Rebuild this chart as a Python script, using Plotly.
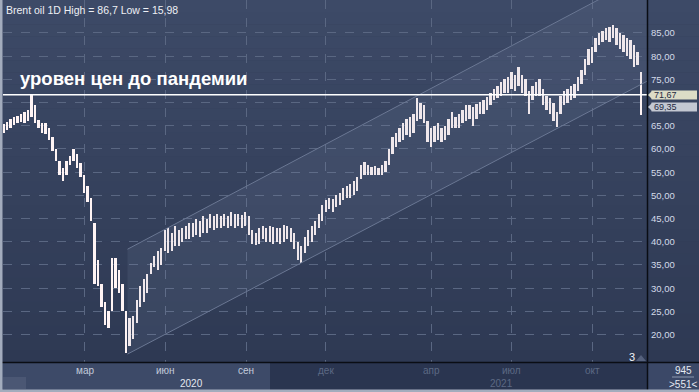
import pandas as pd
import plotly.graph_objects as go

# ---------------- data ----------------
start_date = "2019-11-29"
high = [
    65.3, 65.8, 66.5, 67, 67.2, 67.5, 68, 68.5, 71.7, 69.5,
    66.2, 65.5, 65.6, 64.5, 62.5, 60, 57.5, 56, 57.5, 58.5,
    60, 59, 57, 54.5, 52, 49.5, 44, 36, 31, 27,
    25, 36.5, 36.5, 34, 31, 25, 23.5, 24, 27.5, 30.5,
    32, 33, 35.5, 37, 38, 38.7, 42.5, 43, 42, 43.5,
    42.5, 43, 43.5, 44, 44, 45, 44.5, 45.5, 45, 46,
    45.5, 46, 45.5, 46, 45.5, 46.5, 46, 46, 45.8, 46.4,
    45.5, 42.5, 42, 43, 43.5, 43, 43.5, 43.2, 43, 43,
    43.6, 43.5, 43, 42, 40, 39, 41, 42.5, 43.5, 44.5,
    46, 48, 49, 49.5, 49.2, 50, 50.5, 51.5, 52, 52.5,
    53, 54, 56.5, 57.2, 56.5, 56.2, 56.3, 56, 56.5, 57.5,
    60, 62.5, 63.5, 64.5, 65.5, 66.5, 67, 67.5, 71, 70,
    69.5, 66, 64.5, 65, 65.5, 64.5, 65, 66.5, 68, 67,
    67.5, 68.5, 69.5, 69.5, 69, 69.8, 70.2, 70.5, 71.3, 72,
    73, 73.5, 74.5, 75, 75.5, 76.5, 76, 77.7, 76, 75,
    72.5, 73.5, 74.5, 75, 73, 71.5, 71, 70, 68, 71.5,
    72.5, 73, 73.5, 74, 75.5, 77, 79.5, 81.5, 82, 84,
    85, 85.5, 86, 86.2, 86.7, 86, 85, 84.5, 84, 83.5,
    82.5, 81, 76.5,
]
low = [
    63.5, 64, 64.5, 65.2, 65.5, 65.8, 65.6, 66, 67, 65.5,
    64.5, 63.5, 63.2, 62, 59.5, 57.5, 54.5, 53, 54.5, 56.5,
    57.5, 56, 54, 50.5, 48.5, 44.5, 31, 30.5, 26, 22,
    21.5, 25, 30, 29, 25, 16, 17.5, 19, 22.5, 26,
    27, 29, 33, 34.5, 34, 35, 38, 37.5, 38, 39,
    39, 40, 40.5, 40.5, 41, 41.5, 41, 42, 42, 43,
    42.5, 43, 43, 43.5, 43, 43.5, 43, 43.5, 43, 43.5,
    41.5, 39.5, 39.3, 39.5, 40.5, 40, 40, 39.5, 40, 39.5,
    40, 40.5, 40, 38.5, 36, 35.5, 37.5, 39, 40, 41.5,
    43, 44.5, 46.5, 47, 46.5, 47.5, 48, 49, 49.5, 49.5,
    50, 51, 53.5, 54.5, 54.5, 54.5, 54.5, 54.5, 54.5, 55,
    56.5, 59, 60.5, 61.5, 62, 63, 62.5, 63.5, 66, 66.5,
    65.5, 61.5, 60.5, 61.5, 62, 61.5, 62, 63, 64.5, 64.5,
    64.5, 65.5, 66, 66.5, 65, 66.5, 67.5, 67.5, 68.5, 69.5,
    70.5, 71, 71.5, 72, 72, 73, 72.5, 73.5, 72, 71.5,
    67.5, 70.5, 71.5, 71.5, 69.5, 68.5, 67.5, 66, 64.7, 67.5,
    69.5, 70, 70.5, 71, 72.5, 74, 76, 78, 78.5, 81,
    82.5, 83, 83.5, 83, 84, 82.5, 81.5, 81, 80, 79.5,
    77.7, 78, 67.3,
]
dates = pd.date_range(start_date, periods=len(high), freq="4D")

pre_pandemic_level = 71.67
last_price = 69.35
chart_title = "Brent oil 1D High = 86,7 Low = 15,98"
level_label = "уровен цен до пандемии"

channel_x = ["2020-04-18 14:00", "2021-12-02 17:00"]
channel_lower = [15.8, 74.6]
channel_upper = [38.4, 97.7]

month_ticks = ["2020-03-01", "2020-06-01", "2020-09-01", "2020-12-01",
               "2021-04-01", "2021-07-01", "2021-10-01"]
month_labels = ["мар", "июн", "сен", "дек", "апр", "июл", "окт"]
month_bright = [True, True, True, False, False, False, False]
year_labels = ["2020", "2021"]
year_pos = ["2020-07-01", "2021-06-20"]
year_bright = [True, False]
y_ticks = list(range(20, 90, 5))
y_hidden_tick = 70          # covered by the price tags in the original
x_range = ["2019-11-28 10:00", "2021-12-02 17:00"]
y_range = [14.09, 92.11]
bar_count_label = "945"
visible_label = ">551<"
corner_digit = "3"

# ---------------- figure ----------------
W, H = 699, 392
L, R, T, B = 3, 52, 0, 30
pw, ph = W - L - R, H - T - B


def px_x(x):
    return (x - L) / pw


def px_y(y):
    return (H - B - y) / ph


def mix(c1, c2, t):
    a = [int(c1[i:i + 2], 16) for i in (1, 3, 5)]
    b = [int(c2[i:i + 2], 16) for i in (1, 3, 5)]
    return "#" + "".join(f"{round(x + (y - x) * t):02x}" for x, y in zip(a, b))


def fmt(v):
    return f"{v:.2f}".replace(".", ",")


FONT = "Liberation Sans, Arial, sans-serif"
fig = go.Figure()

# channel
fig.add_trace(go.Scatter(
    x=[channel_x[0], channel_x[0], channel_x[1], channel_x[1]],
    y=[channel_lower[0], channel_upper[0], channel_upper[1], channel_lower[1]],
    fill="toself", fillcolor="rgba(135,150,180,0.13)",
    line=dict(width=0), mode="lines", hoverinfo="skip", showlegend=False))
for ys in (channel_lower, channel_upper):
    fig.add_trace(go.Scatter(x=channel_x, y=ys, mode="lines",
                             line=dict(color="#6a7793", width=1),
                             hoverinfo="skip", showlegend=False))

# price bars
fig.add_trace(go.Bar(
    x=dates, y=[h - l for h, l in zip(high, low)], base=low,
    width=2.6 * 86400000, marker=dict(color="#fff4f4", line=dict(width=0)),
    hoverinfo="skip", showlegend=False))

shapes = []
# background vertical gradient (decorative)
n_bands = 30
for k in range(n_bands):
    y0 = 362 * k / n_bands
    y1 = 362 * (k + 1) / n_bands
    shapes.append(dict(type="rect", xref="paper", yref="paper", x0=px_x(0), x1=px_x(699),
                       y0=px_y(y1), y1=px_y(y0),
                       fillcolor=mix("#3d4a67", "#2e3953", (k + 0.5) / n_bands),
                       line_width=0, layer="below"))
# pre-pandemic level line
shapes.append(dict(type="line", xref="paper", x0=0, x1=1, yref="y",
                   y0=pre_pandemic_level, y1=pre_pandemic_level,
                   line=dict(color="#ffffff", width=1.5), layer="above"))
# bottom panel backgrounds
shapes.append(dict(type="rect", xref="paper", yref="paper", x0=px_x(0), x1=px_x(270),
                   y0=px_y(392), y1=px_y(363), fillcolor="#3d4a68", line_width=0, layer="below"))
shapes.append(dict(type="rect", xref="paper", yref="paper", x0=px_x(270), x1=px_x(647),
                   y0=px_y(392), y1=px_y(363), fillcolor="#2a3550", line_width=0, layer="below"))
shapes.append(dict(type="rect", xref="paper", yref="paper", x0=px_x(3), x1=px_x(26),
                   y0=px_y(389), y1=px_y(377), fillcolor="#4b5774", line_width=0, layer="below"))
shapes.append(dict(type="rect", xref="paper", yref="paper", x0=px_x(648), x1=px_x(699),
                   y0=px_y(392), y1=px_y(363), fillcolor="#3b4867", line_width=0, layer="below"))
shapes.append(dict(type="line", xref="paper", yref="paper", x0=px_x(672), x1=px_x(694),
                   y0=px_y(377), y1=px_y(377), line=dict(color="#8d98b0", width=1)))
# separators
shapes.append(dict(type="line", xref="paper", yref="paper", x0=px_x(0), x1=px_x(699),
                   y0=px_y(362.5), y1=px_y(362.5), line=dict(color="#0a0d14", width=1.5)))
shapes.append(dict(type="line", xref="paper", yref="paper", x0=px_x(647.5), x1=px_x(647.5),
                   y0=px_y(392), y1=px_y(0), line=dict(color="#0a0d14", width=1.5)))
# outer light border
shapes.append(dict(type="rect", xref="paper", yref="paper", x0=px_x(0), x1=px_x(2.5),
                   y0=px_y(392), y1=px_y(0), fillcolor="#a3acbd", line_width=0))
shapes.append(dict(type="rect", xref="paper", yref="paper", x0=px_x(0), x1=px_x(699),
                   y0=px_y(392), y1=px_y(389.5), fillcolor="#a3acbd", line_width=0))
# small marker triangle near corner digit
shapes.append(dict(type="path", xref="paper", yref="paper",
                   path="M {} {} L {} {} L {} {} Z".format(px_x(636), px_y(361), px_x(641), px_y(355),
                                                          px_x(646), px_y(361)),
                   fillcolor="#55617d", line_width=0))

# price tags on the right axis (pointer + box)
tag_specs = ((pre_pandemic_level, "#dcdcc6", 95.0), (last_price, "#c3c8d2", 107.0))
for v, c, cy in tag_specs:
    shapes.append(dict(type="path", xref="paper", yref="paper",
                       path="M {} {} L {} {} L {} {} Z".format(px_x(648), px_y(cy),
                                                              px_x(652), px_y(cy - 4),
                                                              px_x(652), px_y(cy + 4)),
                       fillcolor=c, line_width=0))
    shapes.append(dict(type="rect", xref="paper", yref="paper",
                       x0=px_x(651.5), x1=px_x(697), y0=px_y(cy + 4.5), y1=px_y(cy - 4.5),
                       fillcolor=c, line_width=0))

ann = []
ann.append(dict(text=chart_title, xref="paper", yref="paper", x=px_x(4), y=1,
                xanchor="left", yanchor="top", yshift=-2, showarrow=False,
                font=dict(family=FONT, size=10.5, color="#eef0f5")))
ann.append(dict(text="<b>" + level_label + "</b>", xref="paper", yref="y", x=px_x(18), y=75.3,
                xanchor="left", yanchor="middle", showarrow=False,
                font=dict(family=FONT, size=18.5, color="#ffffff")))
for d, lab, br in zip(month_ticks, month_labels, month_bright):
    ann.append(dict(text=lab, xref="x", yref="paper", x=d, y=px_y(370.5),
                    xanchor="center", yanchor="middle", showarrow=False,
                    font=dict(family=FONT, size=10, color="#c3cadb" if br else "#5c6984")))
for d, lab, br in zip(year_pos, year_labels, year_bright):
    ann.append(dict(text=lab, xref="x", yref="paper", x=d, y=px_y(383),
                    xanchor="center", yanchor="middle", showarrow=False,
                    font=dict(family=FONT, size=10, color="#e4e8f0" if br else "#5c6984")))
ann.append(dict(text=bar_count_label, xref="paper", yref="paper", x=px_x(683), y=px_y(370.5),
                xanchor="center", yanchor="middle", showarrow=False,
                font=dict(family=FONT, size=10, color="#e6eaf2")))
ann.append(dict(text=visible_label, xref="paper", yref="paper", x=px_x(683), y=px_y(384),
                xanchor="center", yanchor="middle", showarrow=False,
                font=dict(family=FONT, size=10, color="#e6eaf2")))
ann.append(dict(text=corner_digit, xref="paper", yref="paper", x=px_x(632), y=px_y(357),
                xanchor="center", yanchor="middle", showarrow=False,
                font=dict(family=FONT, size=11, color="#f2f4f8")))
for v, c, cy in tag_specs:
    ann.append(dict(text=fmt(v), xref="paper", yref="paper",
                    x=px_x(652), y=px_y(cy), xanchor="left", yanchor="middle",
                    showarrow=False, font=dict(family=FONT, size=9, color="#1f2a42")))

fig.update_layout(
    width=W, height=H, margin=dict(l=L, r=R, t=T, b=B, autoexpand=False),
    paper_bgcolor="#34405b", plot_bgcolor="#35415c",
    bargap=0, showlegend=False, hovermode=False,
    shapes=shapes, annotations=ann,
    xaxis=dict(type="date", range=x_range, tickvals=month_ticks, showticklabels=False,
               showgrid=True, gridcolor="#5a6782", griddash="dash", gridwidth=1,
               zeroline=False, showline=False, ticks="", automargin=False),
    yaxis=dict(side="right", range=y_range, tickvals=y_ticks,
               ticktext=["" if v == y_hidden_tick else fmt(v) for v in y_ticks],
               showgrid=True, gridcolor="#5a6782", griddash="dash", gridwidth=1,
               zeroline=False, showline=False, ticks="", ticklabelstandoff=3,
               automargin=False,
               tickfont=dict(family=FONT, size=9.5, color="#d4dae8")),
)

fig.write_html("out.html", config={"displayModeBar": False},
               post_script="document.body.style.margin='0px';document.body.style.overflow='hidden';")
